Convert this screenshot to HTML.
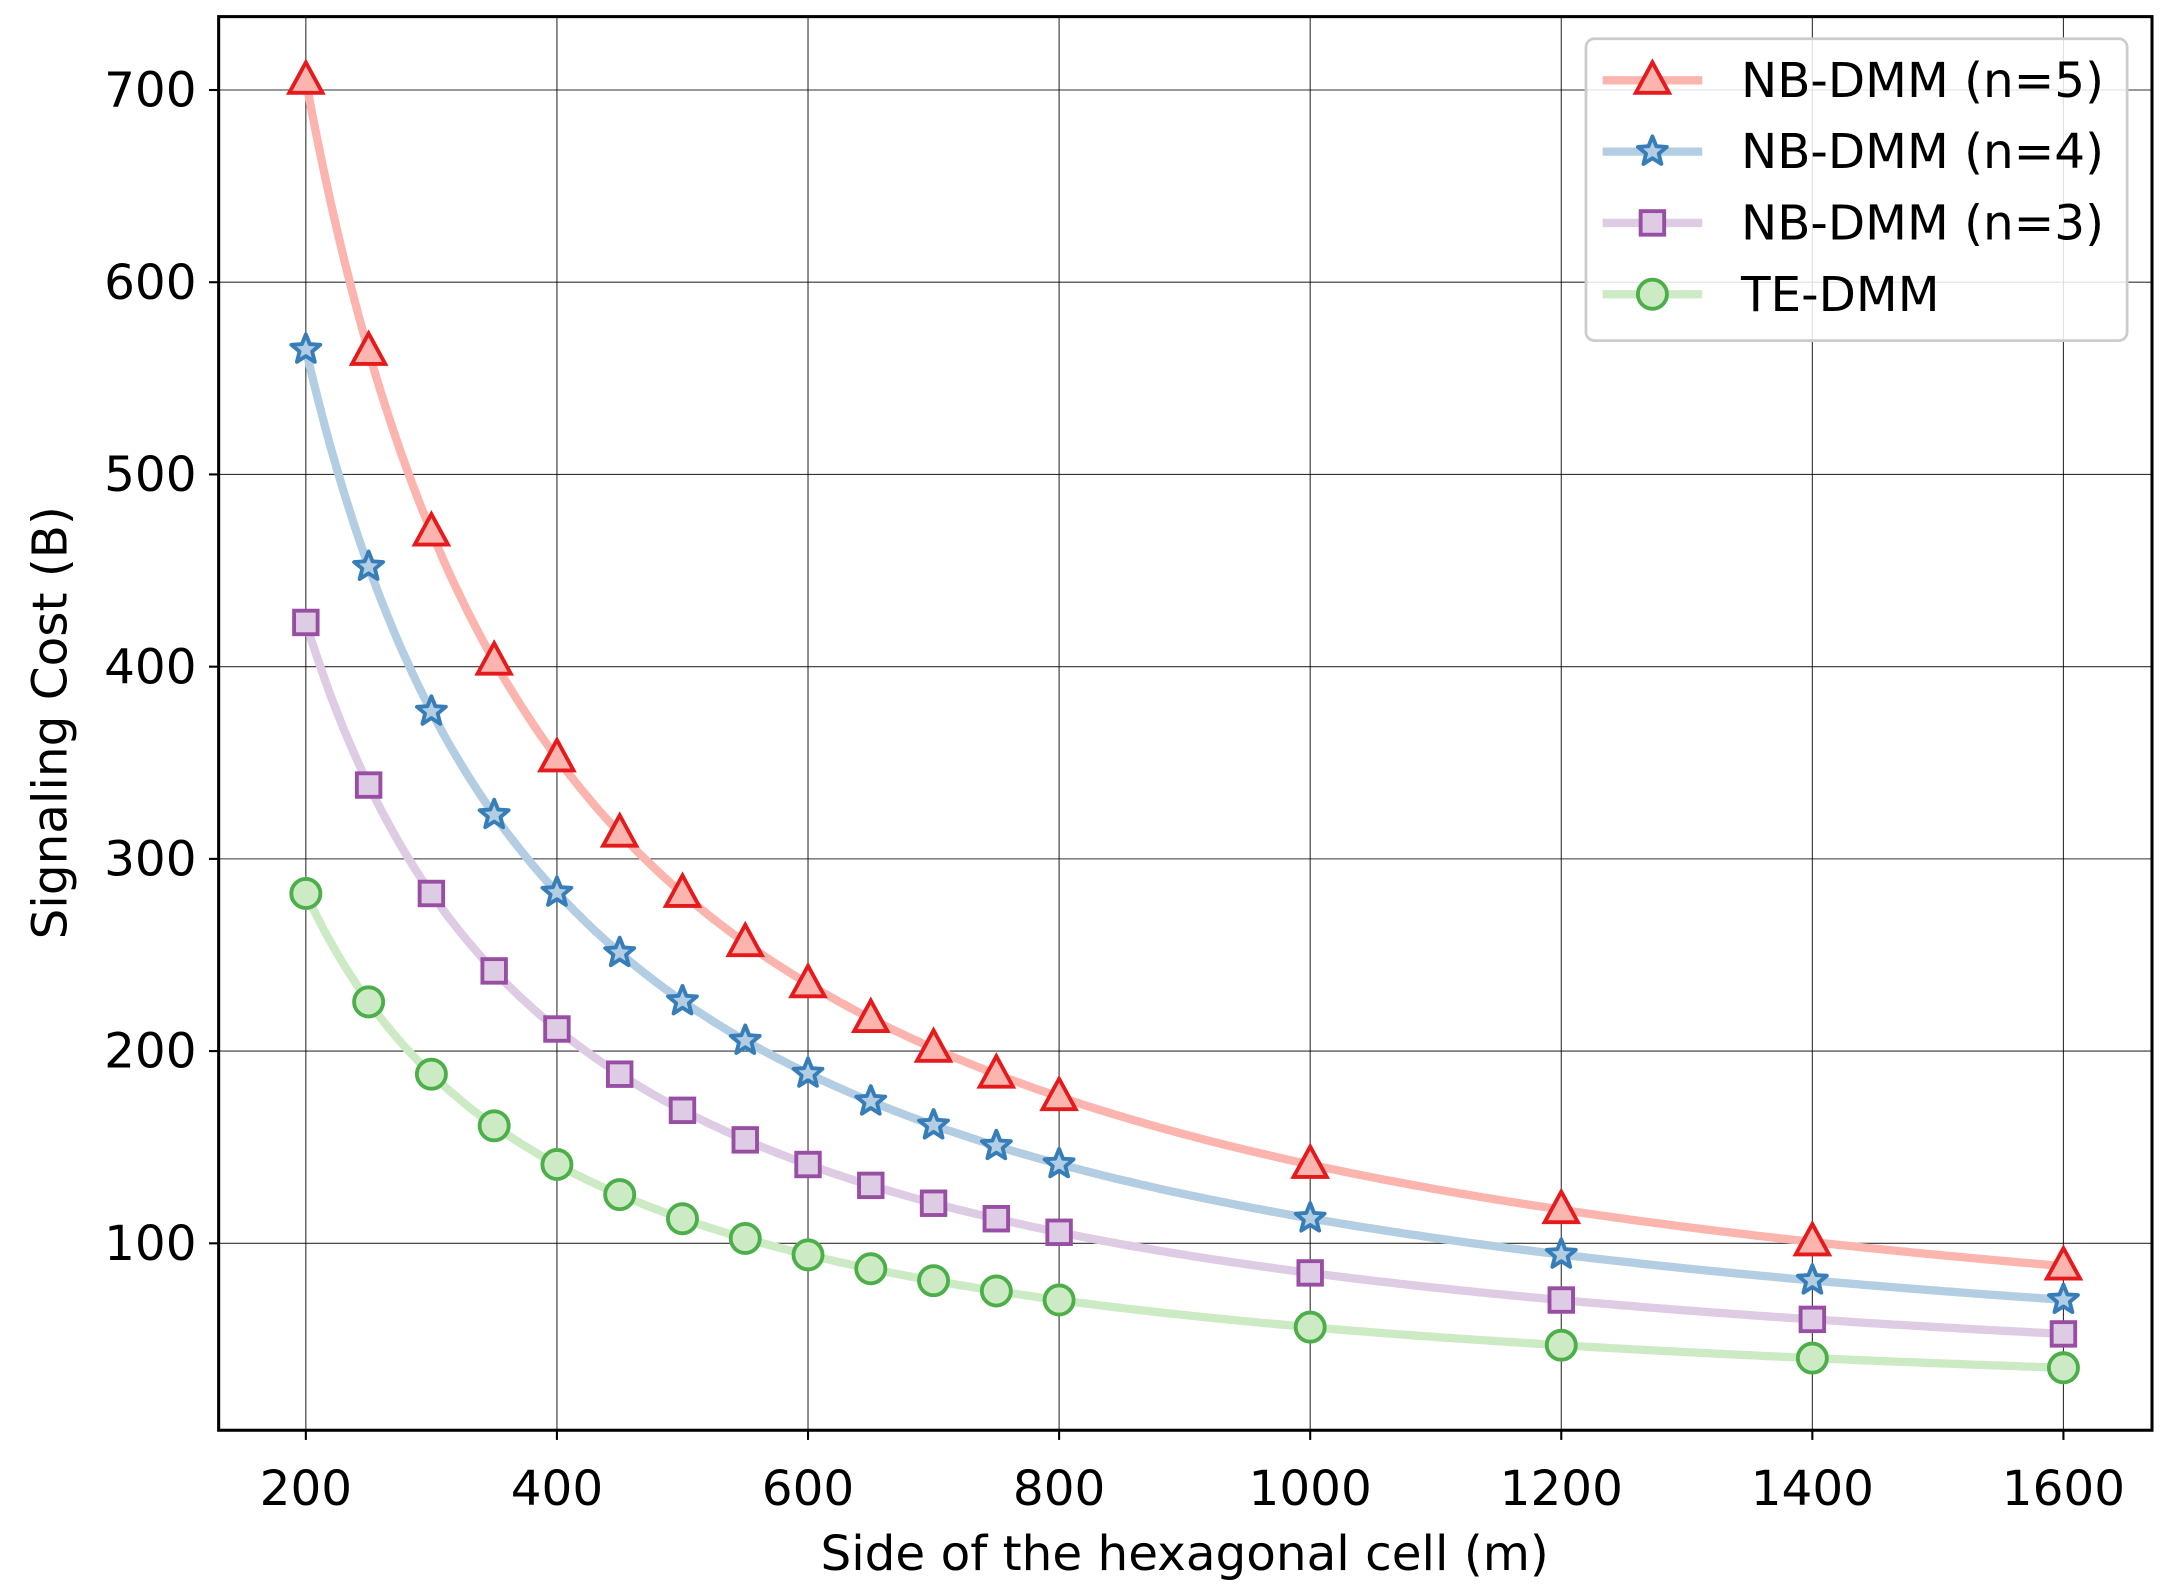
<!DOCTYPE html>
<html><head><meta charset="utf-8"><style>
html,body{margin:0;padding:0;background:#fff;}
svg{display:block;font-family:"DejaVu Sans","Liberation Sans",sans-serif;}
</style></head><body>
<svg id="s" width="2170" height="1595" viewBox="0 0 1568 1152" preserveAspectRatio="none" xmlns="http://www.w3.org/2000/svg">
<rect width="1568" height="1152" fill="#fff"/>
<g id="grid"></g>
<g id="lines"></g>
<g id="marks"></g>
<rect x="158" y="12" width="1397" height="1021" fill="none" stroke="#000" stroke-width="2.2"/>
<g id="ticks" font-size="35" fill="#000"></g>
<text x="856" y="1134" font-size="35" text-anchor="middle">Side of the hexagonal cell (m)</text>
<text transform="translate(48,522) rotate(-90)" font-size="35" text-anchor="middle">Signaling Cost (B)</text>
<g id="legend">
<rect x="1146" y="28" width="391" height="218" rx="6" fill="#fff" fill-opacity="0.85" stroke="#ccc" stroke-width="2"/>
</g>
</svg>
<script>
const NS="http://www.w3.org/2000/svg";
function el(p,t,a){const e=document.createElementNS(NS,t);for(const k in a)e.setAttribute(k,a[k]);document.getElementById(p).appendChild(e);return e;}
const X=v=>221+(v-200)*1270/1400, Y=v=>898-(v-100)*833/600;
[200,400,600,800,1000,1200,1400,1600].forEach(v=>{el("grid","line",{x1:X(v),x2:X(v),y1:12,y2:1033,stroke:"#000","stroke-width":0.8,"stroke-opacity":0.8});
 el("grid","line",{x1:X(v),x2:X(v),y1:1033,y2:1040,stroke:"#000","stroke-width":1.5});
 const t=el("ticks","text",{x:X(v),y:1087,"text-anchor":"middle"});t.textContent=v;});
[100,200,300,400,500,600,700].forEach(v=>{el("grid","line",{x1:158,x2:1555,y1:Y(v),y2:Y(v),stroke:"#000","stroke-width":0.8,"stroke-opacity":0.8});
 el("grid","line",{x1:151,x2:158,y1:Y(v),y2:Y(v),stroke:"#000","stroke-width":1.5});
 const t=el("ticks","text",{x:142,y:Y(v)+12,"text-anchor":"end"});t.textContent=v;});
const xs=[200,250,300,350,400,450,500,550,600,650,700,750,800,1000,1200,1400,1600];
const S=[{k:141000,l:"#fbb4ae",m:"#e41a1c",t:"tri",n:"NB-DMM (n=5)"},{k:113000,l:"#b3cde3",m:"#377eb8",t:"star",n:"NB-DMM (n=4)"},{k:84600,l:"#decbe4",m:"#984ea3",t:"sq",n:"NB-DMM (n=3)"},{k:56400,l:"#ccebc5",m:"#4daf4a",t:"circ",n:"TE-DMM"}];
function mark(g,t,x,y,c,f){
 if(t=="tri")el(g,"polygon",{points:`${x},${y-13} ${x-12},${y+9} ${x+12},${y+9}`,fill:f,stroke:c,"stroke-width":2.8});
 else if(t=="sq")el(g,"rect",{x:x-8.5,y:y-8.5,width:17,height:17,fill:f,stroke:c,"stroke-width":2.8});
 else if(t=="circ")el(g,"circle",{cx:x,cy:y,r:10.5,fill:f,stroke:c,"stroke-width":2.8});
 else{let p=[];for(let i=0;i<10;i++){const r=i%2?4.8:11,a=-Math.PI/2+i*Math.PI/5;p.push((x+r*Math.cos(a)).toFixed(2)+","+(y+r*Math.sin(a)).toFixed(2));}
  el(g,"polygon",{points:p.join(" "),fill:f,stroke:c,"stroke-width":2.8,"stroke-linejoin":"round"});}
}
S.forEach((s,i)=>{let p=[];for(let v=200;v<=1600;v+=5)p.push(X(v).toFixed(1)+","+Y(s.k/v).toFixed(1));
 el("lines","polyline",{points:p.join(" "),fill:"none",stroke:s.l,"stroke-width":6,"stroke-linecap":"round"});
 xs.forEach(v=>mark("marks",s.t,X(v),Y(s.k/v),s.m,s.l));
 const ly=58+i*51.5;
 el("legend","line",{x1:1158,x2:1230,y1:ly,y2:ly,stroke:s.l,"stroke-width":6});
 mark("legend",s.t,1194,ly,s.m,s.l);
 const t=el("legend","text",{x:1258,y:ly+12,"font-size":35});t.textContent=s.n;});
</script>
</body></html>
